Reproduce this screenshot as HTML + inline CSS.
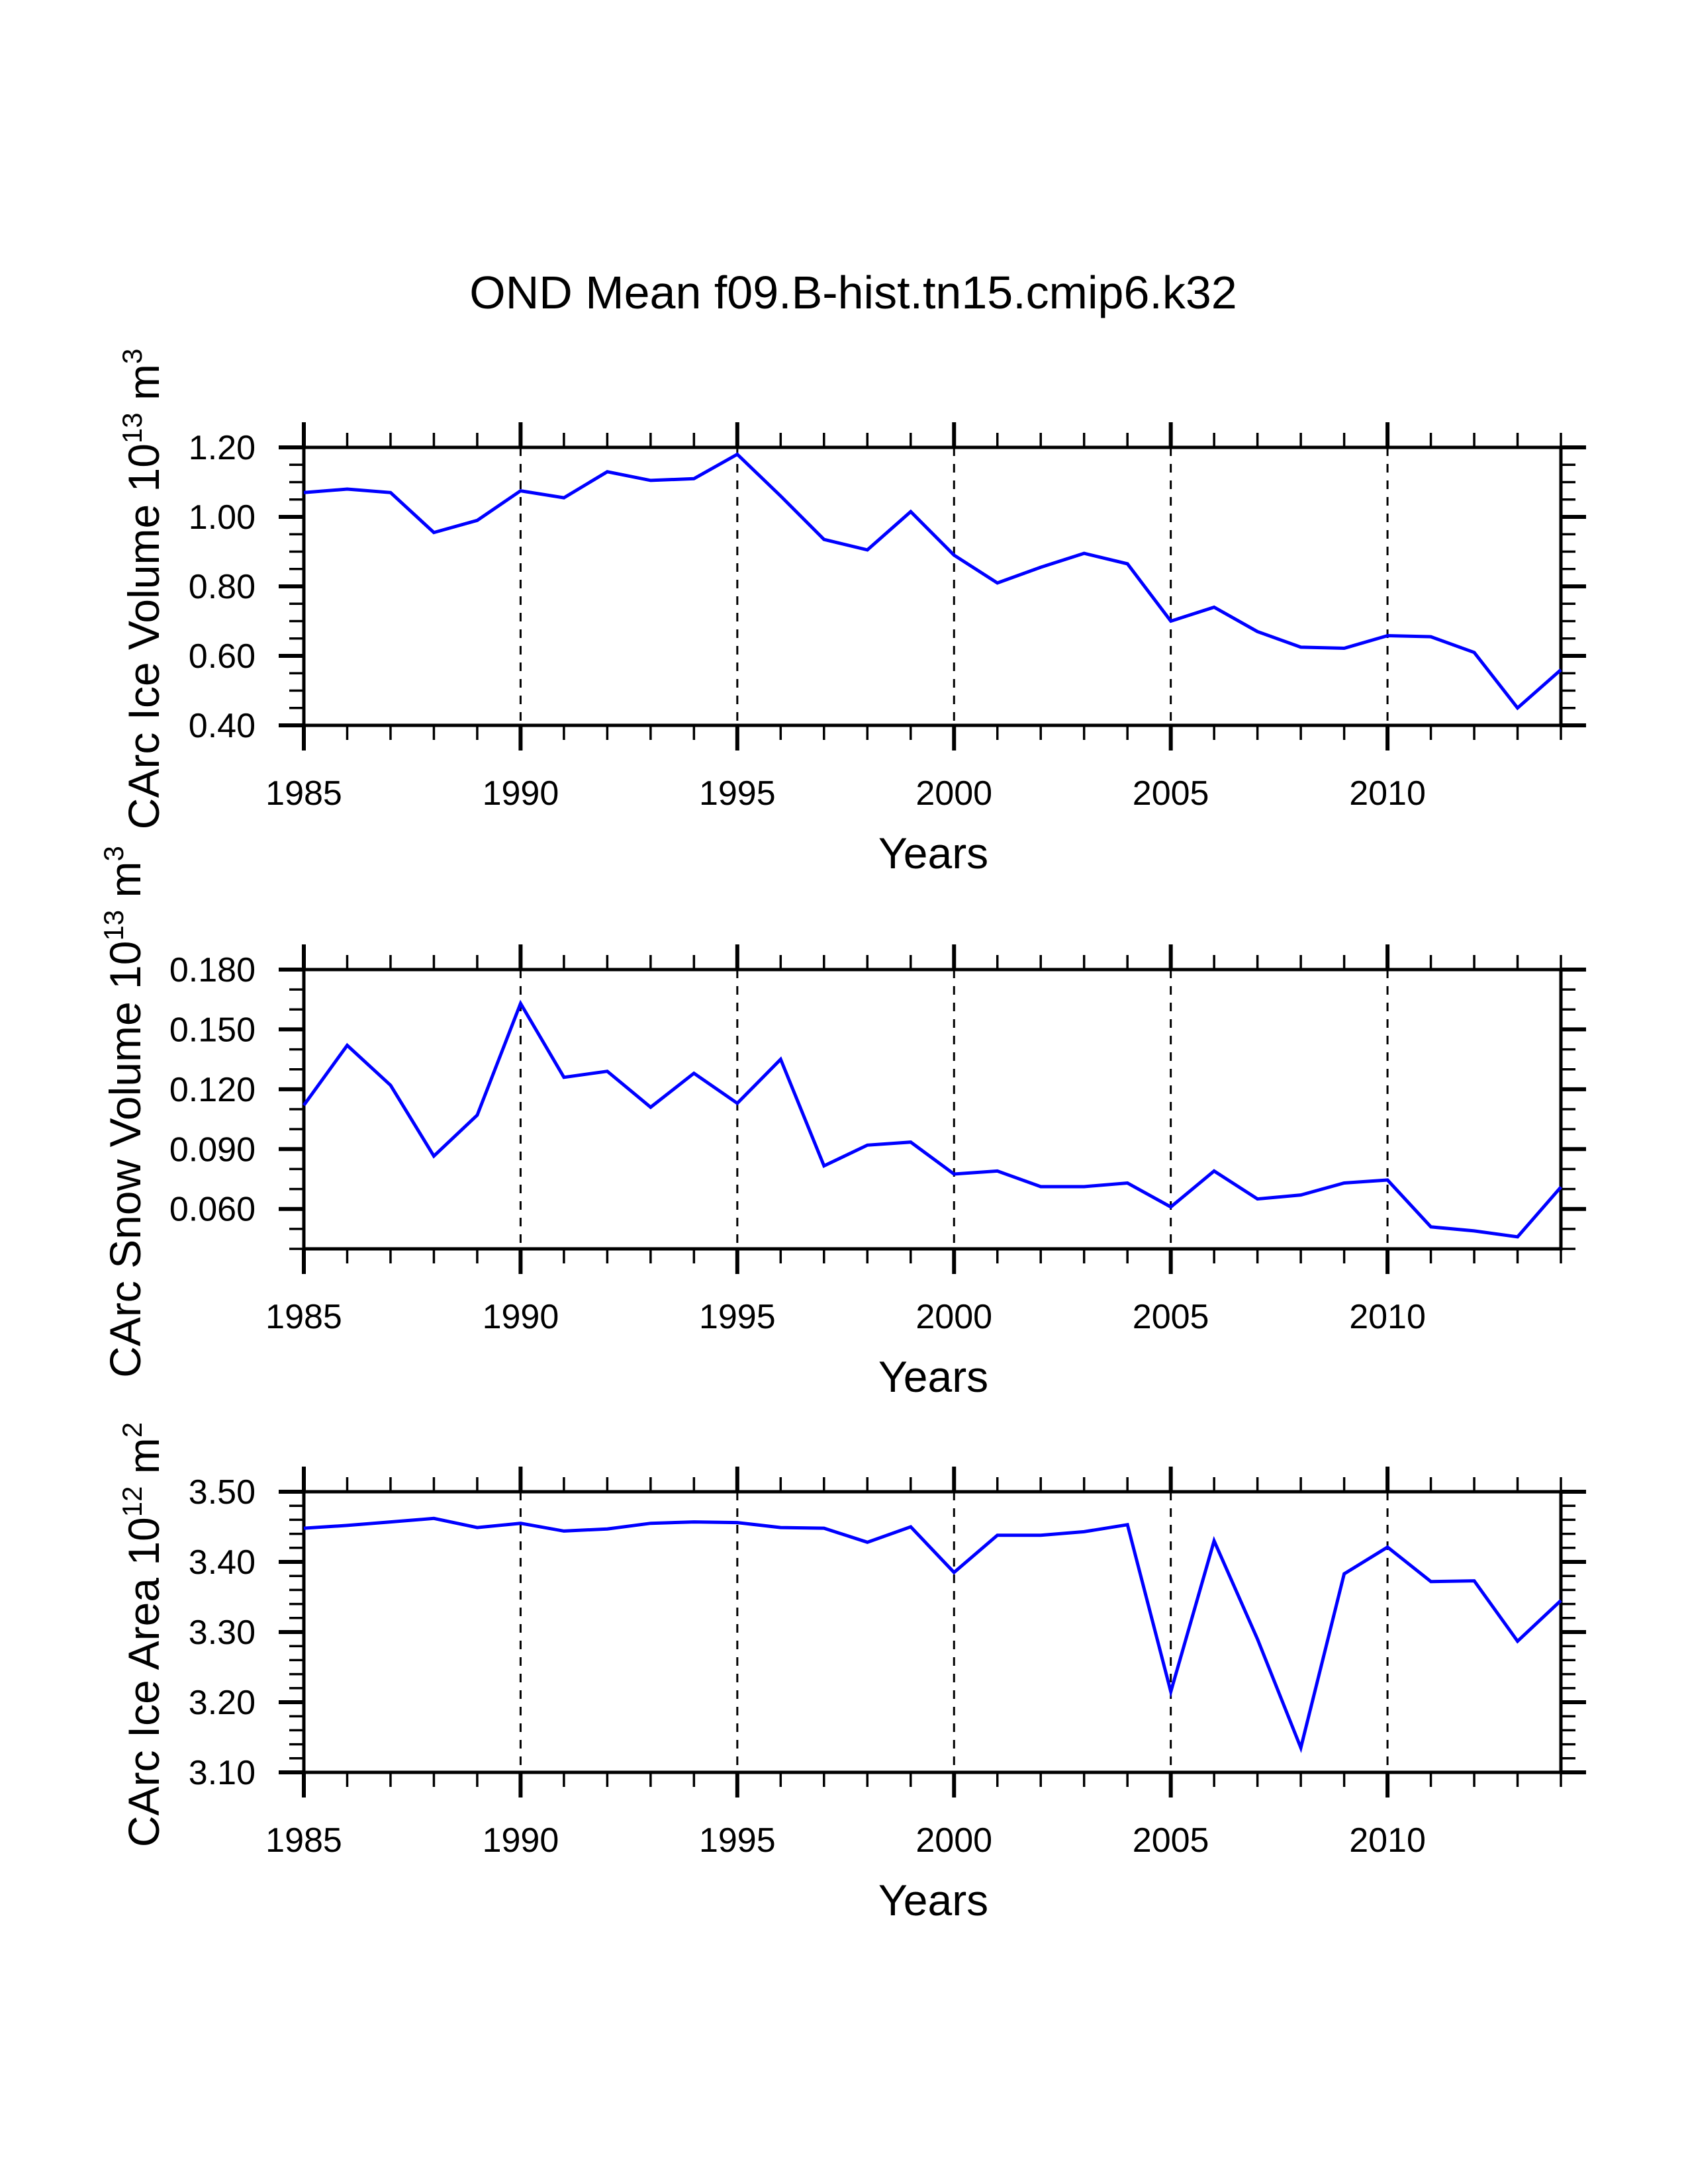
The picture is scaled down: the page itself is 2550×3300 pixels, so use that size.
<!DOCTYPE html>
<html><head><meta charset="utf-8"><style>
html,body{margin:0;padding:0;background:#fff}
svg{display:block}
text{font-family:"Liberation Sans",sans-serif;fill:#000}
</style></head><body>
<svg id="chart" width="2550" height="3300" viewBox="0 0 2550 3300" xmlns="http://www.w3.org/2000/svg">
<text x="1289" y="466" font-size="70" text-anchor="middle">OND Mean f09.B-hist.tn15.cmip6.k32</text>
</svg>
<script>
const years = [1985,1986,1987,1988,1989,1990,1991,1992,1993,1994,1995,1996,1997,1998,1999,2000,2001,2002,2003,2004,2005,2006,2007,2008,2009,2010,2011,2012,2013,2014];
const iceVolume = [1.07,1.08,1.07,0.955,0.99,1.075,1.055,1.13,1.105,1.11,1.18,1.06,0.935,0.905,1.015,0.89,0.81,0.855,0.895,0.865,0.70,0.74,0.67,0.625,0.622,0.658,0.655,0.61,0.45,0.56];
const snowVolume = [0.112,0.142,0.122,0.0865,0.107,0.163,0.126,0.129,0.111,0.128,0.113,0.135,0.0816,0.092,0.0935,0.0775,0.079,0.0712,0.0712,0.073,0.061,0.079,0.065,0.067,0.073,0.0745,0.051,0.049,0.046,0.071];
const iceArea = [3.448,3.452,3.457,3.462,3.449,3.455,3.444,3.447,3.455,3.457,3.456,3.449,3.448,3.428,3.450,3.385,3.438,3.438,3.443,3.453,3.215,3.430,3.290,3.135,3.383,3.421,3.372,3.373,3.287,3.345];
const xTickLabels = ["1985","1990","1995","2000","2005","2010"];
const iceVolTicks = ["0.40","0.60","0.80","1.00","1.20"];
const snowVolTicks = ["0.060","0.090","0.120","0.150","0.180"];
const iceAreaTicks = ["3.10","3.20","3.30","3.40","3.50"];

const NS="http://www.w3.org/2000/svg";
const svg=document.getElementById('chart');
function mk(tag,attrs,parent){const e=document.createElementNS(NS,tag);for(const k in attrs)e.setAttribute(k,attrs[k]);(parent||svg).appendChild(e);return e;}

const X0=459,X1=2358;
function xs(y){return X0+(y-1985)/(2014-1985)*(X1-X0);}

function panel(name,top,bottom,ymin,ymax,majorStep,minorStep,tickLabels,data,titleMain,exp,unitSup,titleX){
  const g=mk('g',{});
  
  
  const ys=v=>bottom-(v-ymin)/(ymax-ymin)*(bottom-top);
  for(let yr=1990;yr<=2010;yr+=5){
    const l=mk('line',{x1:xs(yr),x2:xs(yr),y1:top,y2:bottom,stroke:'#000','stroke-width':3,'stroke-dasharray':'13,12'},g);
    
    
  }
  for(let yr=1985;yr<=2014;yr++){
    const major=(yr%5===0);
    const len=major?38:22,w=major?6:3.5;
    const x=xs(yr);
    mk('line',{x1:x,x2:x,y1:bottom,y2:bottom+len,stroke:'#000','stroke-width':w},g);
    mk('line',{x1:x,x2:x,y1:top,y2:top-len,stroke:'#000','stroke-width':w},g);
  }
  xTickLabels.forEach(t=>{
    const tx=mk('text',{x:xs(+t),y:bottom+120,'font-size':52,'text-anchor':'middle'},g);
    tx.textContent=t;
    
    
  });
  const nMinor=Math.round((ymax-ymin)/minorStep);
  const base=Math.ceil(ymin/majorStep-1e-9)*majorStep;
  for(let i=0;i<=nMinor;i++){
    const v=ymin+i*minorStep;
    const k=(v-base)/majorStep;
    const r=Math.abs(Math.round(k)-k)<1e-6;
    const y=ys(v);
    const len=r?38:22,w=r?6:3.5;
    mk('line',{x1:X0,x2:X0-len,y1:y,y2:y,stroke:'#000','stroke-width':w},g);
    mk('line',{x1:X1,x2:X1+len,y1:y,y2:y,stroke:'#000','stroke-width':w},g);
  }
  tickLabels.forEach(t=>{
    const tx=mk('text',{x:386,y:ys(+t)+18,'font-size':52,'text-anchor':'end'},g);
    tx.textContent=t;
    
    
  });
  const fr=mk('rect',{x:X0,y:top,width:X1-X0,height:bottom-top,fill:'none',stroke:'#000','stroke-width':5},g);
  
  
  const pts=data.map((v,i)=>xs(years[i]).toFixed(1)+','+ys(v).toFixed(1)).join(' ');
  const pl=mk('polyline',{points:pts,fill:'none',stroke:'#0000ff','stroke-width':5,'stroke-linejoin':'miter'},g);
  
  
  const xt=mk('text',{x:1410,y:bottom+216,'font-size':66,'text-anchor':'middle'},g);
  xt.textContent='Years';
  
  
  const cy=(top+bottom)/2+4;
  const yt=mk('text',{x:0,y:0,'font-size':66,'text-anchor':'middle',transform:`translate(${titleX},${cy}) rotate(-90)`},g);
  
  
  const a=mk('tspan',{},yt);a.textContent=titleMain+' 10';
  const b=mk('tspan',{dy:-26,'font-size':42},yt);b.textContent=exp;
  const c=mk('tspan',{dy:26},yt);c.textContent=' m';
  const d=mk('tspan',{dy:-26,'font-size':42},yt);d.textContent=unitSup;
}
panel('ice-volume',676,1096,0.4,1.2,0.2,0.05,iceVolTicks,iceVolume,'CArc Ice Volume','13','3',240);
panel('snow-volume',1465,1887,0.04,0.18,0.03,0.01,snowVolTicks,snowVolume,'CArc Snow Volume','13','3',212);
panel('ice-area',2254,2678,3.1,3.5,0.1,0.02,iceAreaTicks,iceArea,'CArc Ice Area','12','2',240);
</script>
</body></html>
